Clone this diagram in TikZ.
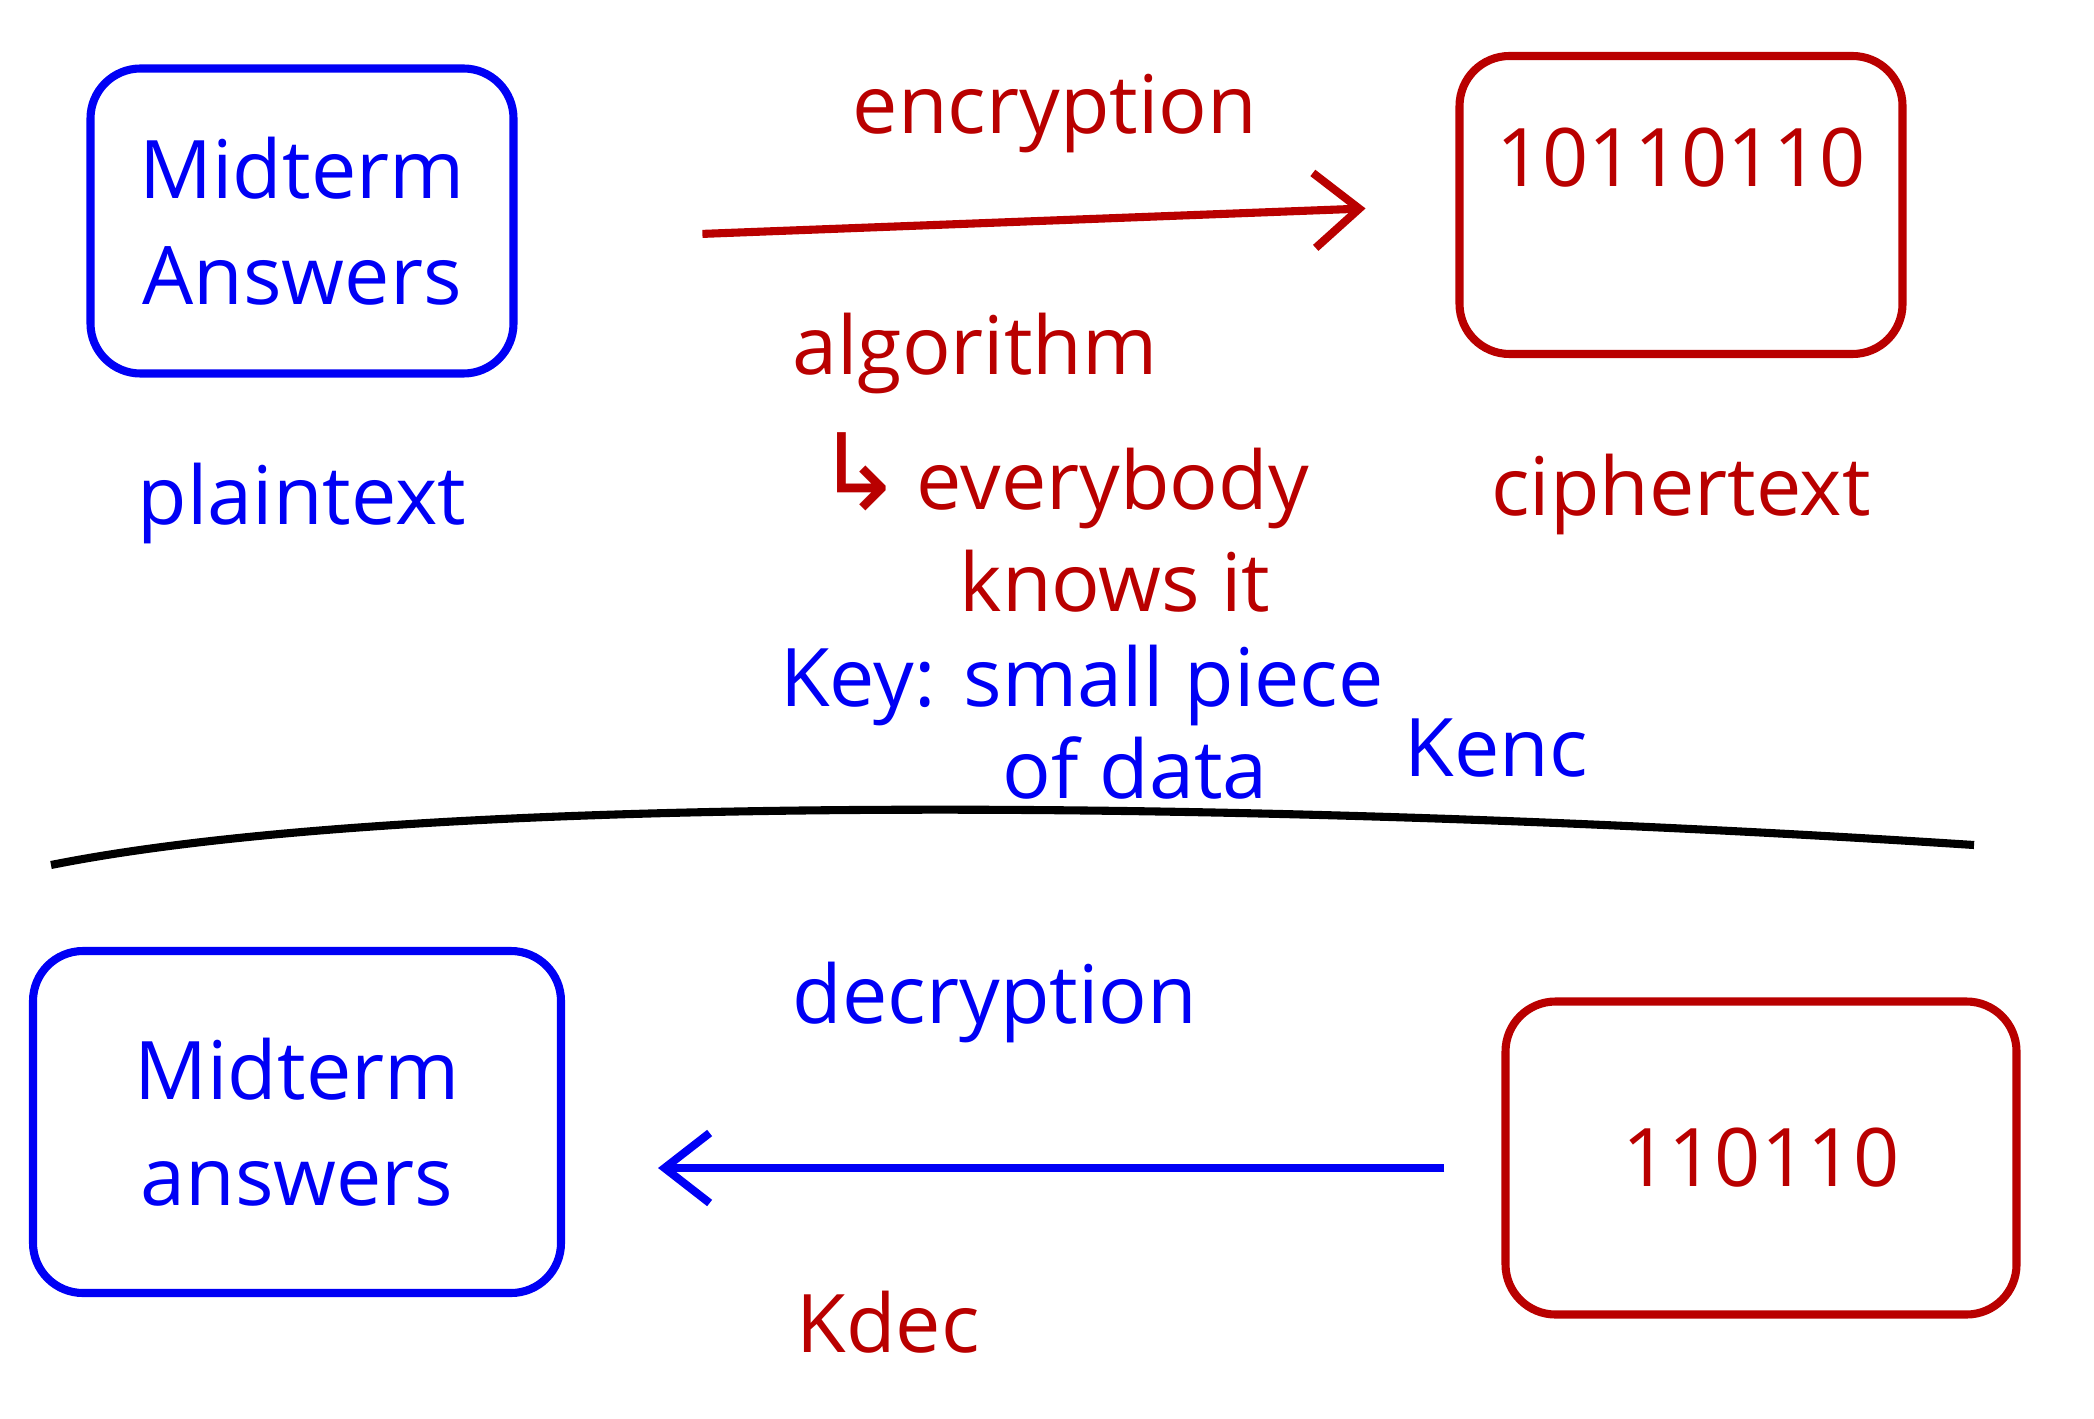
\documentclass[tikz,border=0pt]{standalone}
\usepackage{fontspec}
\setmainfont{Open Sans}
\newfontfamily\symbfont{DejaVu Sans}
\usepackage{tikz}
\usetikzlibrary{positioning}
\usetikzlibrary{arrows.meta}

\definecolor{penblue}{RGB}{0,0,245}
\definecolor{penred}{RGB}{185,0,0}

\tikzset{
    hand/.style={font=\fontsize{23}{30}\selectfont, align=center, inner sep=0pt},
    bluetxt/.style={hand, text=penblue},
    redtxt/.style={hand, text=penred},
    msgbox/.style={draw, line width=2.3pt, rounded corners=0.5cm, inner sep=0pt},
    encarrow/.style={penred, line width=2.3pt, -{Straight Barb[length=4.5mm,width=7.5mm,line width=2.3pt]}},
    decarrow/.style={penblue, line width=2.3pt, -{Straight Barb[length=4.5mm,width=7mm,line width=2.3pt]}}
}

\begin{document}
\begin{tikzpicture}[x=1cm, y=1cm]
    \useasboundingbox (0,0) rectangle (20.94,-14.18);

    % encryption side
    \node [msgbox, penblue, bluetxt, minimum width=4.23cm, minimum height=3.05cm] (plainbox) at (3.02,-2.21) {Midterm\\Answers};
    \node [bluetxt, below=0.85cm of plainbox] (plainlbl) {plaintext};

    \node [msgbox, penred, minimum width=4.43cm, minimum height=2.98cm] (cipherbox) at (16.81,-2.05) {};
    \node [redtxt] (cipherbits) at ([yshift=4.7mm]cipherbox.center) {10110110};
    \node [redtxt, below=0.95cm of cipherbox] (cipherlbl) {ciphertext};

    \node [redtxt] (enclbl) at (10.55,-1.14) {encryption};
    \node [redtxt] (algolbl) at (9.75,-3.54) {algorithm};
    \node [redtxt] (everylbl) at (10.62,-4.81) {{\symbfont\fontsize{30}{30}\selectfont ↳}\,everybody};
    \node [redtxt] (knowslbl) at (11.15,-5.81) {knows it};

    \node [bluetxt] (keylbl) at (10.82,-6.85) {Key: small piece};
    \node [bluetxt] (datalbl) at (11.35,-7.68) {of data};
    \node [bluetxt] (kenc) at (14.96,-7.48) {Kenc};

    \draw [encarrow, shorten <=1.85cm, shorten >=0.9cm] ([yshift=-2mm]plainbox.east) -- (cipherbox.west);

    % divider
    \coordinate (divL) at (0.51,-8.65);
    \coordinate (divR) at (19.74,-8.45);
    \draw [line width=2.3pt] (divL) .. controls (4,-7.95) and (12,-7.95) .. (divR);

    % decryption side
    \node [msgbox, penblue, bluetxt, minimum width=5.28cm, minimum height=3.42cm] (plainbox2) at (2.97,-11.22) {Midterm\\answers};
    \node [msgbox, penred, redtxt, minimum width=5.11cm, minimum height=3.13cm] (cipherbox2) at (17.61,-11.58) {110110};

    \node [bluetxt] (declbl) at (9.95,-10.02) {decryption};
    \node [redtxt] (kdec) at (8.88,-13.22) {Kdec};

    \draw [decarrow, shorten <=0.57cm, shorten >=0.93cm] ([yshift=-1mm]cipherbox2.west) -- ([yshift=-1mm]plainbox2.east |- cipherbox2.west);

\end{tikzpicture}
\end{document}
